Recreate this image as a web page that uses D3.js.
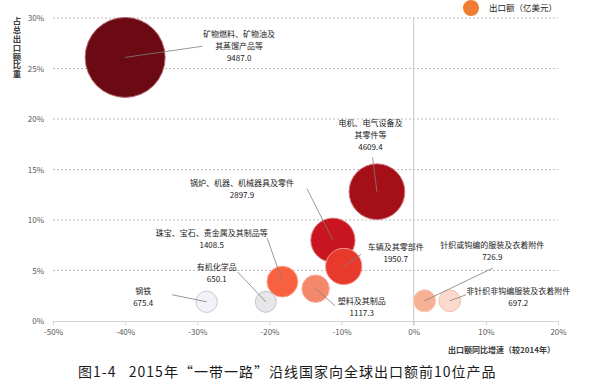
<!DOCTYPE html>
<html>
<head>
<meta charset="utf-8">
<script src="https://cdn.jsdelivr.net/npm/d3@7"></script>
<style>
  body { margin: 0; background: #fff; }
  svg text { font-family: "Noto Sans CJK SC", "Noto Sans", sans-serif; }
</style>
</head>
<body>
<div id="chart"></div>
<script>
// data
var names = [
  "矿物燃料、矿物油及\n其蒸馏产品等",
  "电机、电气设备及\n其零件等",
  "锅炉、机器、机械器具及零件",
  "车辆及其零部件",
  "珠宝、宝石、贵金属及其制品等",
  "塑料及其制品",
  "钢铁",
  "有机化学品",
  "针织或钩编的服装及衣着附件",
  "非针织非钩编服装及衣着附件"
];
var growth = [-40.0, -5.1, -11.2, -9.7, -18.2, -13.6, -28.7, -20.5, 1.5, 5.0];
var share = [26.1, 12.8, 8.0, 5.4, 3.9, 3.2, 1.9, 1.9, 2.0, 2.0];
var exportValue = [9487.0, 4609.4, 2897.9, 1950.7, 1408.5, 1117.3, 675.4, 650.1, 726.9, 697.2];
var exportLabel = ["9487.0", "4609.4", "2897.9", "1950.7", "1408.5", "1117.3", "675.4", "650.1", "726.9", "697.2"];
// label anchors and leader ends, in axis units
var labelX = [-24.2, -6.0, -23.8, -2.5, -28.0, -7.2, -37.5, -27.3, 10.9, 14.5];
var labelY = [28.4, 19.6, 13.7, 7.3, 8.7, 2.0, 3.0, 5.3, 7.5, 3.0];
var leaderX = [-29.3, -5.7, -14.8, -7.3, -20.3, -10.9, -33.5, -24.4, 11.0, 7.25];
var leaderY = [27.2, 16.2, 13.1, 6.6, 8.2, 1.5, 2.6, 4.85, 5.25, 2.6];

var xTicks = [-50, -40, -30, -20, -10, 0, 10, 20];
var yTicks = [0, 5, 10, 15, 20, 25, 30];

var palette = ["#6c0a14", "#a50f18", "#c9151f", "#e73a2c", "#f8613f", "#f4886b", "#f2f2f9", "#e7e7e9", "#f6b195", "#fbdacd"];
var strokes = ["#b86a70", "#d07a7e", "#e27f82", "#f5978e", "#fb9f88", "#f8b3a2", "#c8c8d8", "#c4c4c8", "#f9cbbb", "#f3c1b0"];

var svgWidth = 596, svgHeight = 385;
var svg = d3.select("#chart").append("svg")
  .attr("width", svgWidth)
  .attr("height", svgHeight);

var x = d3.scaleLinear().domain([-50, 20]).range([53, 558]);
var y = d3.scaleLinear().domain([0, 30]).range([321, 18]);
var r = d3.scaleSqrt().domain([0, 9487]).range([0, 40]);

// grid lines
svg.append("g").selectAll("line")
  .data(yTicks.filter(d => d > 0))
  .join("line")
  .attr("x1", x(-50)).attr("x2", x(20))
  .attr("y1", d => y(d)).attr("y2", d => y(d))
  .attr("stroke", "#bdbdbd")
  .attr("stroke-dasharray", "2,2");

// y tick labels
svg.append("g").selectAll("text")
  .data(yTicks)
  .join("text")
  .attr("x", 44)
  .attr("y", d => y(d) + 3)
  .attr("text-anchor", "end")
  .attr("font-size", 8)
  .attr("fill", "#595959")
  .text(d => d + "%");

// x axis
var xAxis = d3.axisBottom(x).tickValues(xTicks).tickSize(4).tickFormat(d => d + "%");
var gx = svg.append("g")
  .attr("transform", `translate(0, ${y(0)})`)
  .call(xAxis);
gx.select(".domain").attr("stroke", "#d4d4d4");
gx.selectAll(".tick line").attr("stroke", "#d4d4d4");
gx.selectAll(".tick text")
  .attr("font-size", 8)
  .attr("fill", "#595959")
  .attr("dy", "0.9em");

// zero line
svg.append("line")
  .attr("x1", x(0)).attr("x2", x(0))
  .attr("y1", y(30)).attr("y2", y(0) + 5)
  .attr("stroke", "#c8c8c8");

// bubbles, big ones first
var idx = d3.range(names.length).sort((a, b) => exportValue[b] - exportValue[a]);
svg.append("g").selectAll("circle")
  .data(idx)
  .join("circle")
  .attr("cx", i => x(growth[i]))
  .attr("cy", i => y(share[i]))
  .attr("r", i => r(exportValue[i]))
  .attr("fill", i => palette[i])
  .attr("stroke", i => strokes[i])
  .attr("stroke-width", 1);

// leader lines
svg.append("g").selectAll("line")
  .data(d3.range(names.length))
  .join("line")
  .attr("x1", i => x(growth[i])).attr("y1", i => y(share[i]))
  .attr("x2", i => x(leaderX[i])).attr("y2", i => y(leaderY[i]))
  .attr("stroke", "#7f7f7f")
  .attr("stroke-width", 0.8);

// labels
var labels = svg.append("g").selectAll("text")
  .data(d3.range(names.length))
  .join("text")
  .attr("text-anchor", "middle")
  .attr("font-size", 8)
  .attr("fill", "#1a1a1a");
labels.each(function(i) {
  var t = d3.select(this);
  var lines = names[i].split("\n").concat([exportLabel[i]]);
  lines.forEach(function(s, k) {
    t.append("tspan")
      .attr("x", x(labelX[i]))
      .attr("y", y(labelY[i]) + 3 + k * 12)
      .text(s);
  });
});

// y axis title, vertical upright text
svg.append("text")
  .attr("x", 17)
  .attr("y", 17)
  .attr("font-size", 8.4)
  .attr("font-weight", "bold")
  .attr("fill", "#404040")
  .attr("letter-spacing", 0.4)
  .style("writing-mode", "vertical-rl")
  .style("text-orientation", "upright")
  .text("占总出口额比重");

// x axis title
svg.append("text")
  .attr("x", 555)
  .attr("y", 353)
  .attr("text-anchor", "end")
  .attr("font-size", 8)
  .attr("font-weight", "bold")
  .attr("fill", "#404040")
  .text("出口额同比增速（较2014年）");

// legend
svg.append("circle")
  .attr("cx", 471).attr("cy", 8).attr("r", 8)
  .attr("fill", "#ee7d31");
svg.append("text")
  .attr("x", 489).attr("y", 11)
  .attr("font-size", 8.5)
  .attr("fill", "#262626")
  .text("出口额（亿美元）");

// caption
svg.append("text")
  .attr("x", 78).attr("y", 377)
  .attr("font-size", 14)
  .attr("letter-spacing", 1)
  .attr("fill", "#1a1a1a")
  .attr("xml:space", "preserve")
  .text("图1-4   2015年“一带一路”沿线国家向全球出口额前10位产品");
</script>
</body>
</html>
